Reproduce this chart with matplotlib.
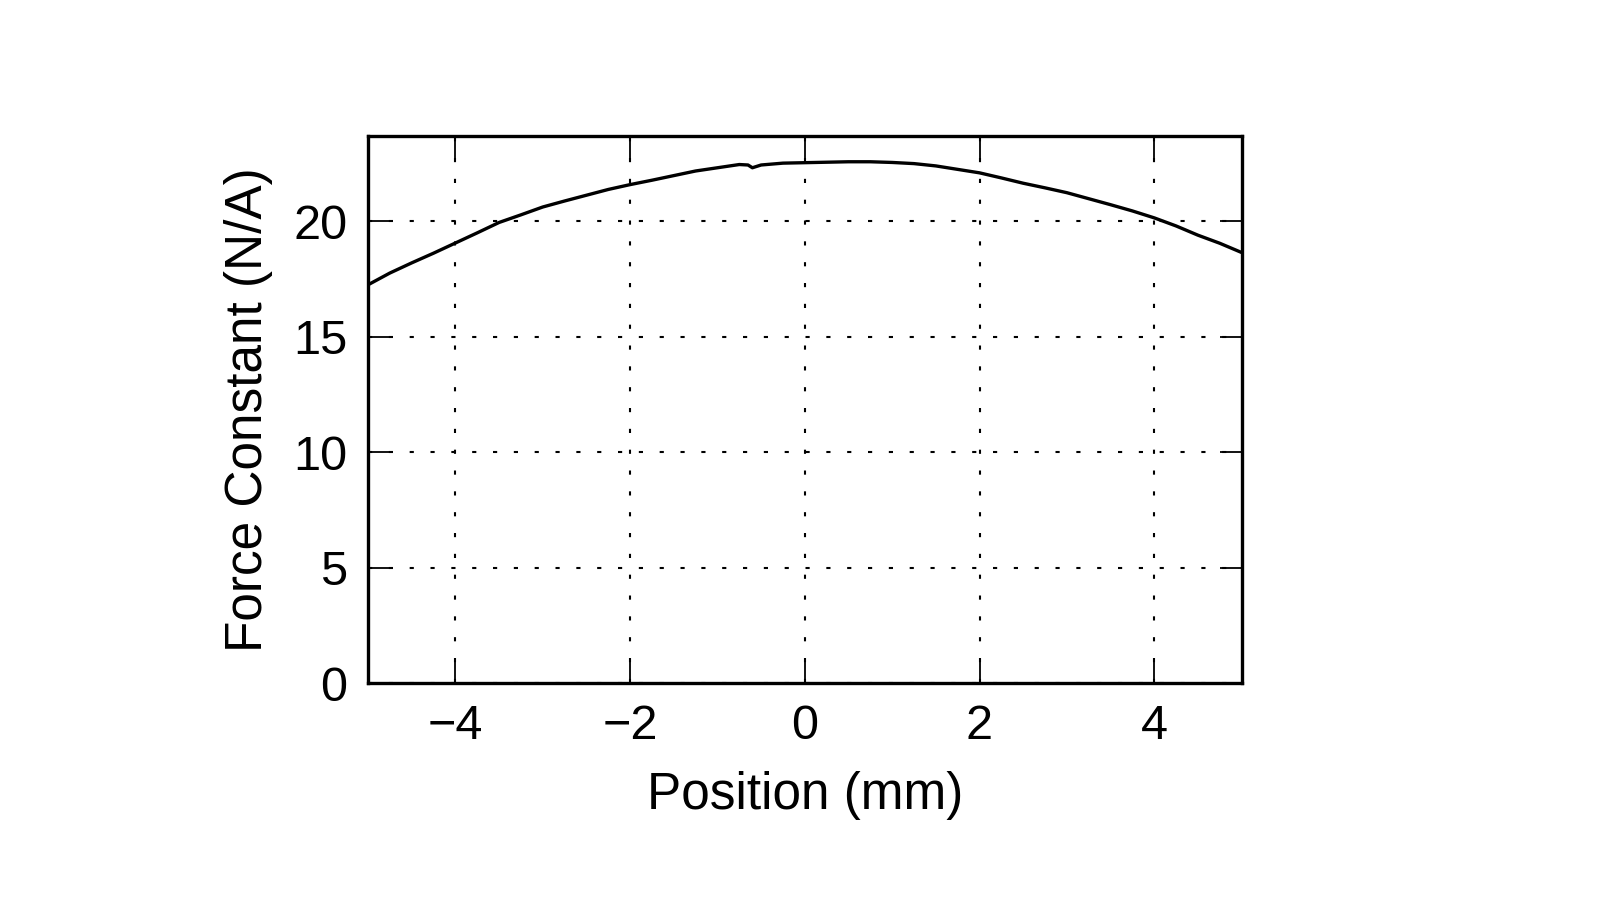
import matplotlib
matplotlib.use("Agg")
import matplotlib.pyplot as plt

plt.rcParams["font.family"] = ["Liberation Sans", "DejaVu Sans"]

# position along the stroke (mm) and measured force constant (N/A)
position = [-5.00, -4.75, -4.50, -4.25, -4.00, -3.75, -3.50, -3.25, -3.00, -2.75,
            -2.50, -2.25, -2.00, -1.75, -1.50, -1.25, -1.00, -0.75, -0.65, -0.60,
            -0.50, -0.25, 0.00, 0.25, 0.50, 0.75, 1.00, 1.25, 1.50, 1.75,
            2.00, 2.25, 2.50, 2.75, 3.00, 3.25, 3.50, 3.75, 4.00, 4.25,
            4.50, 4.75, 5.00]
force_const = [17.25, 17.76, 18.20, 18.62, 19.06, 19.50, 19.95, 20.28, 20.62, 20.88,
               21.13, 21.38, 21.59, 21.78, 21.98, 22.18, 22.32, 22.46, 22.44, 22.32,
               22.44, 22.52, 22.54, 22.56, 22.58, 22.58, 22.55, 22.50, 22.40, 22.25,
               22.10, 21.88, 21.65, 21.45, 21.24, 20.98, 20.72, 20.45, 20.15, 19.80,
               19.40, 19.05, 18.65]

fig = plt.figure(figsize=(16, 9), dpi=100)
ax = fig.add_axes([0.23, 0.241, 0.546, 0.608])

ax.plot(position, force_const, color="black", linewidth=2.4)

ax.set_xlim(-5, 5)
ax.set_ylim(0, 23.7)
ax.set_xticks([-4, -2, 0, 2, 4])
ax.set_yticks([0, 5, 10, 15, 20])

ax.grid(True, color="black", linewidth=1.5, linestyle=(0, (2, 8)))
ax.tick_params(direction="in", length=16, width=1.3, top=True, right=True,
               labelsize=35, pad=15)
for sp in ax.spines.values():
    sp.set_linewidth(2.4)

ax.set_xlabel("Position (mm)", fontsize=37, labelpad=16)
ax.set_ylabel("Force Constant (N/A)", fontsize=37, labelpad=14)

fig.savefig("out.png", dpi=100)
